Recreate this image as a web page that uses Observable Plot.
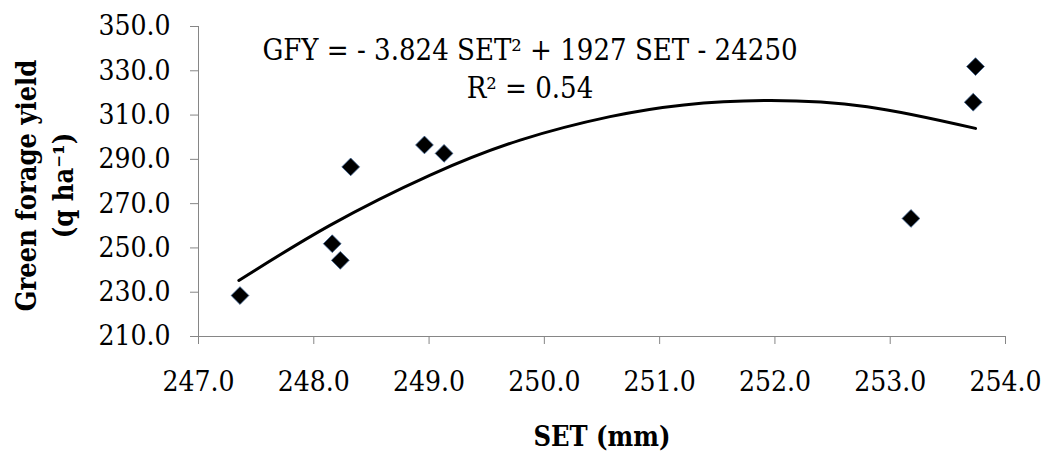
<!DOCTYPE html>
<html>
<head>
<meta charset="utf-8">
<script src="https://cdn.jsdelivr.net/npm/d3@7"></script>
<script src="https://cdn.jsdelivr.net/npm/@observablehq/plot@0.6"></script>
<style>
  html, body { margin: 0; padding: 0; background: #fff; }
  #chart svg { display: block; }
  #chart svg, #chart svg text { font-family: "DejaVu Serif Condensed", "DejaVu Serif", serif !important; font-stretch: condensed; }
</style>
</head>
<body>
<div id="chart"></div>
<script>
// Scatter data: SET (mm) vs green forage yield (q/ha)
const setMm = [247.36, 248.16, 248.23, 248.32, 248.96, 249.13, 253.18, 253.72, 253.74];
const gfy   = [228.5, 251.9, 244.4, 286.6, 296.5, 292.7, 263.3, 315.8, 331.9];

// Polynomial trend line
const trendSet = [247.35, 248.14, 249.01, 249.79, 250.57, 251.21, 251.93, 252.80, 253.74];
const trendGfy = [235.3, 260.2, 282.9, 298.7, 309.3, 314.6, 316.6, 313.8, 304.0];

// Tick values
const xTicks = [247, 248, 249, 250, 251, 252, 253, 254];
const yTicks = [210, 230, 250, 270, 290, 310, 330, 350];

// Texts
const equationText = "GFY = - 3.824 SET\u00B2 + 1927 SET - 24250\nR\u00B2 = 0.54";
const xLabel = "SET (mm)";
const yLabel = "Green forage yield\n(q ha\u207B\u00B9)";

const points = setMm.map((s, i) => ({set: s, gfy: gfy[i]}));
const trend = trendSet.map((s, i) => ({set: s, gfy: trendGfy[i]}));

const axisGray = "#868686";
const serif = "DejaVu Serif Condensed";

const chart = Plot.plot({
  width: 1041,
  height: 454,
  marginLeft: 198,
  marginRight: 36,
  marginTop: 26,
  marginBottom: 118,
  style: {
    fontFamily: serif,
    fontSize: "28px",
    color: "#000",
    background: "#fff",
    overflow: "visible"
  },
  x: {domain: [247, 254]},
  y: {domain: [210, 350]},
  marks: [
    Plot.ruleX([247], {stroke: axisGray, strokeWidth: 1}),
    Plot.ruleY([210], {stroke: axisGray, strokeWidth: 1}),
    Plot.axisX({
      ticks: xTicks, tickFormat: d3.format(".1f"), tickSize: 8, tickPadding: 27,
      stroke: axisGray, fill: "#000", label: null, fontFamily: serif, fontSize: 28
    }),
    Plot.axisY({
      ticks: yTicks, tickFormat: d3.format(".1f"), tickSize: 8, tickPadding: 20,
      stroke: axisGray, fill: "#000", label: null, fontFamily: serif, fontSize: 28
    }),
    Plot.line(trend, {x: "set", y: "gfy", stroke: "#000", strokeWidth: 3, curve: "natural"}),
    Plot.dot(points, {
      x: "set", y: "gfy", symbol: "diamond2", r: 8,
      fill: "#000", stroke: "#3a5f8f", strokeWidth: 0.8
    }),
    Plot.text([equationText], {
      frameAnchor: "top", dx: -72, dy: 7, lineAnchor: "top",
      lineHeight: 1.31, textAnchor: "middle", fontSize: 29, fill: "#000", fontFamily: serif
    }),
    Plot.text([xLabel], {
      frameAnchor: "bottom", dy: 101, lineAnchor: "middle",
      textAnchor: "middle", fontSize: 27, fontWeight: "bold", fill: "#000", fontFamily: serif
    }),
    Plot.text([yLabel], {
      frameAnchor: "left", dx: -156, dy: 4, rotate: -90, lineAnchor: "middle",
      lineHeight: 1.4, textAnchor: "middle", fontSize: 27, fontWeight: "bold", fill: "#000", fontFamily: serif
    })
  ]
});

document.getElementById("chart").appendChild(chart);
</script>
</body>
</html>
